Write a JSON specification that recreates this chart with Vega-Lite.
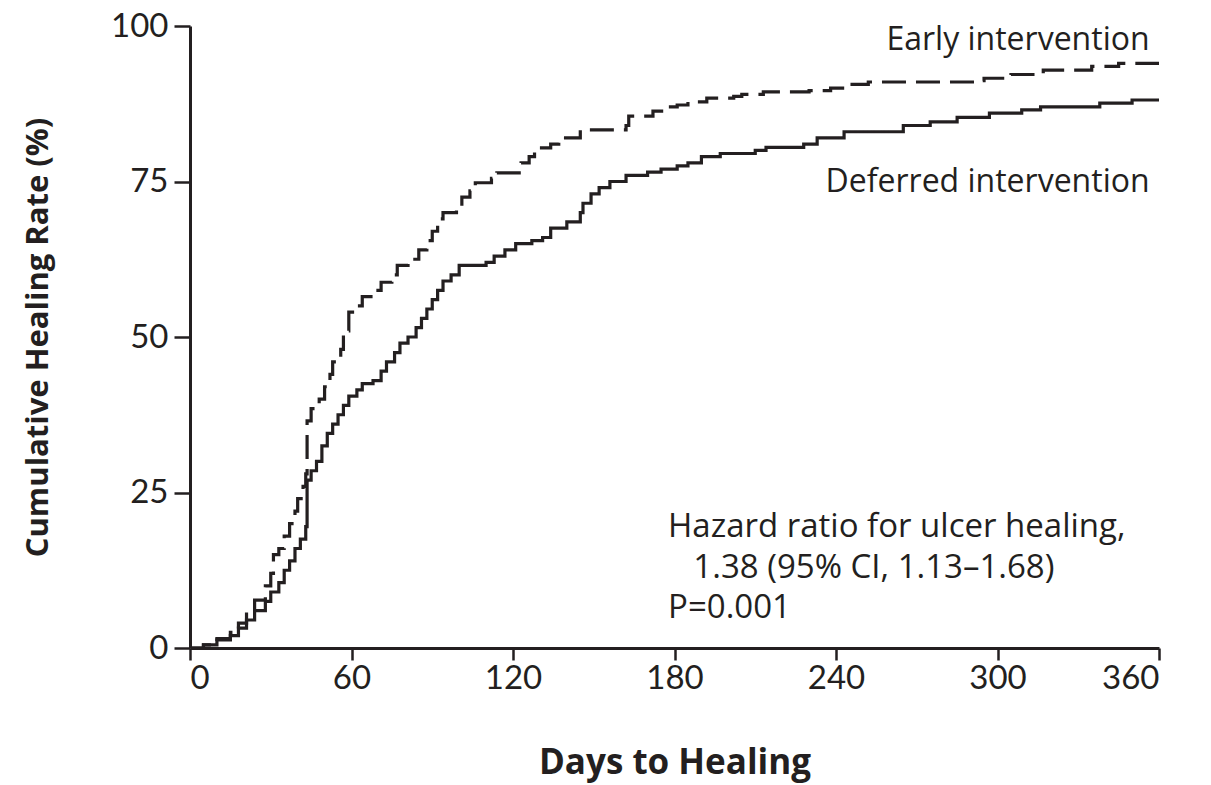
{
  "$schema": "https://vega.github.io/schema/vega-lite/v6.json",
  "width": 969,
  "height": 622,
  "autosize": "none",
  "padding": {"left": 190, "top": 26, "right": 52, "bottom": 137},
  "background": "white",
  "config": {
    "view": {"stroke": null},
    "font": "Lato",
    "axis": {
      "grid": false,
      "domainColor": "#231f20",
      "domainWidth": 3,
      "tickColor": "#231f20",
      "tickWidth": 2.5,
      "labelColor": "#231f20",
      "labelFont": "Lato",
      "labelFontSize": 33,
      "titleColor": "#231f20",
      "titleFont": "Open Sans",
      "titleFontWeight": "bold"
    }
  },
  "datasets": {
    "curves": [
      {"group": "Deferred intervention", "day": 0, "rate": 0},
      {"group": "Deferred intervention", "day": 3, "rate": 0},
      {"group": "Deferred intervention", "day": 5, "rate": 0.5},
      {"group": "Deferred intervention", "day": 10, "rate": 1.3},
      {"group": "Deferred intervention", "day": 15, "rate": 2},
      {"group": "Deferred intervention", "day": 18, "rate": 3.2},
      {"group": "Deferred intervention", "day": 21, "rate": 4.5},
      {"group": "Deferred intervention", "day": 24, "rate": 6},
      {"group": "Deferred intervention", "day": 28, "rate": 7.5},
      {"group": "Deferred intervention", "day": 30, "rate": 9},
      {"group": "Deferred intervention", "day": 33, "rate": 10.5},
      {"group": "Deferred intervention", "day": 35, "rate": 12.5},
      {"group": "Deferred intervention", "day": 37, "rate": 14},
      {"group": "Deferred intervention", "day": 39, "rate": 16},
      {"group": "Deferred intervention", "day": 41, "rate": 17.5},
      {"group": "Deferred intervention", "day": 43, "rate": 19.5},
      {"group": "Deferred intervention", "day": 43.5, "rate": 27},
      {"group": "Deferred intervention", "day": 45, "rate": 28.5},
      {"group": "Deferred intervention", "day": 47, "rate": 30},
      {"group": "Deferred intervention", "day": 49, "rate": 32.5},
      {"group": "Deferred intervention", "day": 51, "rate": 34.5},
      {"group": "Deferred intervention", "day": 53, "rate": 36},
      {"group": "Deferred intervention", "day": 55, "rate": 37.5},
      {"group": "Deferred intervention", "day": 57, "rate": 39},
      {"group": "Deferred intervention", "day": 59, "rate": 40.5},
      {"group": "Deferred intervention", "day": 62, "rate": 41.5},
      {"group": "Deferred intervention", "day": 64, "rate": 42.5},
      {"group": "Deferred intervention", "day": 68, "rate": 43},
      {"group": "Deferred intervention", "day": 71, "rate": 44.5},
      {"group": "Deferred intervention", "day": 73, "rate": 46},
      {"group": "Deferred intervention", "day": 76, "rate": 47.5},
      {"group": "Deferred intervention", "day": 78, "rate": 49},
      {"group": "Deferred intervention", "day": 81, "rate": 50},
      {"group": "Deferred intervention", "day": 84, "rate": 51.5},
      {"group": "Deferred intervention", "day": 86, "rate": 53},
      {"group": "Deferred intervention", "day": 88, "rate": 54.5},
      {"group": "Deferred intervention", "day": 90, "rate": 56},
      {"group": "Deferred intervention", "day": 92, "rate": 57.5},
      {"group": "Deferred intervention", "day": 94, "rate": 59},
      {"group": "Deferred intervention", "day": 97, "rate": 60},
      {"group": "Deferred intervention", "day": 100, "rate": 61.5},
      {"group": "Deferred intervention", "day": 110, "rate": 62},
      {"group": "Deferred intervention", "day": 113, "rate": 63},
      {"group": "Deferred intervention", "day": 117, "rate": 64},
      {"group": "Deferred intervention", "day": 121, "rate": 65},
      {"group": "Deferred intervention", "day": 127, "rate": 65.5},
      {"group": "Deferred intervention", "day": 131, "rate": 66},
      {"group": "Deferred intervention", "day": 134, "rate": 67.5},
      {"group": "Deferred intervention", "day": 140, "rate": 68.5},
      {"group": "Deferred intervention", "day": 145, "rate": 70},
      {"group": "Deferred intervention", "day": 146, "rate": 71.5},
      {"group": "Deferred intervention", "day": 149, "rate": 73},
      {"group": "Deferred intervention", "day": 152, "rate": 74},
      {"group": "Deferred intervention", "day": 156, "rate": 75},
      {"group": "Deferred intervention", "day": 162, "rate": 76},
      {"group": "Deferred intervention", "day": 170, "rate": 76.5},
      {"group": "Deferred intervention", "day": 175, "rate": 77},
      {"group": "Deferred intervention", "day": 181, "rate": 77.5},
      {"group": "Deferred intervention", "day": 185, "rate": 78},
      {"group": "Deferred intervention", "day": 190, "rate": 79},
      {"group": "Deferred intervention", "day": 197, "rate": 79.5},
      {"group": "Deferred intervention", "day": 210, "rate": 80},
      {"group": "Deferred intervention", "day": 214, "rate": 80.5},
      {"group": "Deferred intervention", "day": 228, "rate": 81},
      {"group": "Deferred intervention", "day": 233, "rate": 82},
      {"group": "Deferred intervention", "day": 243, "rate": 83},
      {"group": "Deferred intervention", "day": 265, "rate": 84},
      {"group": "Deferred intervention", "day": 275, "rate": 84.6},
      {"group": "Deferred intervention", "day": 285, "rate": 85.3},
      {"group": "Deferred intervention", "day": 297, "rate": 86},
      {"group": "Deferred intervention", "day": 309, "rate": 86.5},
      {"group": "Deferred intervention", "day": 316, "rate": 87},
      {"group": "Deferred intervention", "day": 338, "rate": 87.6},
      {"group": "Deferred intervention", "day": 350, "rate": 88.1},
      {"group": "Deferred intervention", "day": 360, "rate": 88.1},
      {"group": "Early intervention", "day": 0, "rate": 0},
      {"group": "Early intervention", "day": 5, "rate": 0.5},
      {"group": "Early intervention", "day": 10, "rate": 1.5},
      {"group": "Early intervention", "day": 15, "rate": 2.5},
      {"group": "Early intervention", "day": 18, "rate": 4},
      {"group": "Early intervention", "day": 21, "rate": 6},
      {"group": "Early intervention", "day": 24, "rate": 7.7},
      {"group": "Early intervention", "day": 28, "rate": 10},
      {"group": "Early intervention", "day": 30, "rate": 12},
      {"group": "Early intervention", "day": 31, "rate": 15},
      {"group": "Early intervention", "day": 33, "rate": 16},
      {"group": "Early intervention", "day": 35, "rate": 18},
      {"group": "Early intervention", "day": 37, "rate": 20},
      {"group": "Early intervention", "day": 39, "rate": 22},
      {"group": "Early intervention", "day": 40, "rate": 24},
      {"group": "Early intervention", "day": 42, "rate": 26},
      {"group": "Early intervention", "day": 43, "rate": 28},
      {"group": "Early intervention", "day": 43.5, "rate": 36.5},
      {"group": "Early intervention", "day": 45, "rate": 38.5},
      {"group": "Early intervention", "day": 48, "rate": 40},
      {"group": "Early intervention", "day": 50, "rate": 42},
      {"group": "Early intervention", "day": 52, "rate": 44},
      {"group": "Early intervention", "day": 53, "rate": 46},
      {"group": "Early intervention", "day": 56, "rate": 48},
      {"group": "Early intervention", "day": 57, "rate": 51},
      {"group": "Early intervention", "day": 59, "rate": 54},
      {"group": "Early intervention", "day": 62, "rate": 55},
      {"group": "Early intervention", "day": 64, "rate": 56.5},
      {"group": "Early intervention", "day": 68, "rate": 57.5},
      {"group": "Early intervention", "day": 71, "rate": 58.8},
      {"group": "Early intervention", "day": 75, "rate": 60},
      {"group": "Early intervention", "day": 77, "rate": 61.5},
      {"group": "Early intervention", "day": 81, "rate": 62.5},
      {"group": "Early intervention", "day": 85, "rate": 64},
      {"group": "Early intervention", "day": 88, "rate": 65.5},
      {"group": "Early intervention", "day": 90, "rate": 67},
      {"group": "Early intervention", "day": 92, "rate": 69},
      {"group": "Early intervention", "day": 94, "rate": 70},
      {"group": "Early intervention", "day": 99, "rate": 71},
      {"group": "Early intervention", "day": 101, "rate": 72.5},
      {"group": "Early intervention", "day": 104, "rate": 73.5},
      {"group": "Early intervention", "day": 106, "rate": 74.8},
      {"group": "Early intervention", "day": 112, "rate": 75.5},
      {"group": "Early intervention", "day": 114, "rate": 76.4},
      {"group": "Early intervention", "day": 123, "rate": 78},
      {"group": "Early intervention", "day": 126, "rate": 79},
      {"group": "Early intervention", "day": 128, "rate": 80.4},
      {"group": "Early intervention", "day": 134, "rate": 81},
      {"group": "Early intervention", "day": 137, "rate": 82},
      {"group": "Early intervention", "day": 145, "rate": 83.3},
      {"group": "Early intervention", "day": 162, "rate": 84},
      {"group": "Early intervention", "day": 163, "rate": 85.5},
      {"group": "Early intervention", "day": 172, "rate": 86.3},
      {"group": "Early intervention", "day": 176, "rate": 87},
      {"group": "Early intervention", "day": 181, "rate": 87.3},
      {"group": "Early intervention", "day": 185, "rate": 87.8},
      {"group": "Early intervention", "day": 192, "rate": 88.4},
      {"group": "Early intervention", "day": 202, "rate": 88.7},
      {"group": "Early intervention", "day": 205, "rate": 89},
      {"group": "Early intervention", "day": 213, "rate": 89.4},
      {"group": "Early intervention", "day": 230, "rate": 89.6},
      {"group": "Early intervention", "day": 238, "rate": 90},
      {"group": "Early intervention", "day": 245, "rate": 90.6},
      {"group": "Early intervention", "day": 252, "rate": 91},
      {"group": "Early intervention", "day": 292, "rate": 91.2},
      {"group": "Early intervention", "day": 295, "rate": 91.6},
      {"group": "Early intervention", "day": 305, "rate": 92.2},
      {"group": "Early intervention", "day": 317, "rate": 92.9},
      {"group": "Early intervention", "day": 335, "rate": 93.5},
      {"group": "Early intervention", "day": 345, "rate": 94},
      {"group": "Early intervention", "day": 360, "rate": 94}
    ],
    "labels": [
      {"text": "Early intervention", "day": 356.5, "rate": 97.8, "align": "right", "size": 32},
      {"text": "Deferred intervention", "day": 356.5, "rate": 74.9, "align": "right", "size": 32},
      {"text": "Hazard ratio for ulcer healing,", "day": 177.6, "rate": 19.5, "align": "left", "size": 33},
      {"text": "1.38 (95% CI, 1.13\u20131.68)", "day": 187, "rate": 12.9, "align": "left", "size": 33},
      {"text": "P=0.001", "day": 177.6, "rate": 6.4, "align": "left", "size": 33}
    ]
  },
  "layer": [
    {
      "data": {"name": "curves"},
      "mark": {"type": "line", "interpolate": "step-after", "strokeWidth": 3.2, "color": "#231f20", "clip": true},
      "encoding": {
        "x": {
          "field": "day", "type": "quantitative",
          "scale": {"domain": [0, 360], "nice": false},
          "axis": {"values": [0, 60, 120, 180, 240, 300, 360], "tickSize": 12, "labelPadding": 2, "title": "Days to Healing", "titleFontSize": 35, "titlePadding": 50}
        },
        "y": {
          "field": "rate", "type": "quantitative",
          "scale": {"domain": [0, 100], "nice": false},
          "axis": {"values": [0, 25, 50, 75, 100], "tickSize": 16, "labelPadding": 6, "title": "Cumulative Healing Rate (%)", "titleFontSize": 31, "titlePadding": 56}
        },
        "detail": {"field": "group"},
        "strokeDash": {
          "field": "group", "type": "nominal",
          "scale": {"domain": ["Early intervention", "Deferred intervention"], "range": [[24, 10], [1, 0]]},
          "legend": null
        }
      }
    },
    {
      "data": {"name": "labels"},
      "transform": [{"filter": "datum.align == 'right'"}],
      "mark": {"type": "text", "align": "right", "baseline": "middle", "font": "Open Sans", "color": "#231f20"},
      "encoding": {
        "x": {"field": "day", "type": "quantitative"},
        "y": {"field": "rate", "type": "quantitative"},
        "text": {"field": "text"},
        "size": {"field": "size", "type": "quantitative", "scale": null}
      }
    },
    {
      "data": {"name": "labels"},
      "transform": [{"filter": "datum.align == 'left'"}],
      "mark": {"type": "text", "align": "left", "baseline": "middle", "font": "Open Sans", "color": "#231f20"},
      "encoding": {
        "x": {"field": "day", "type": "quantitative"},
        "y": {"field": "rate", "type": "quantitative"},
        "text": {"field": "text"},
        "size": {"field": "size", "type": "quantitative", "scale": null}
      }
    }
  ]
}
